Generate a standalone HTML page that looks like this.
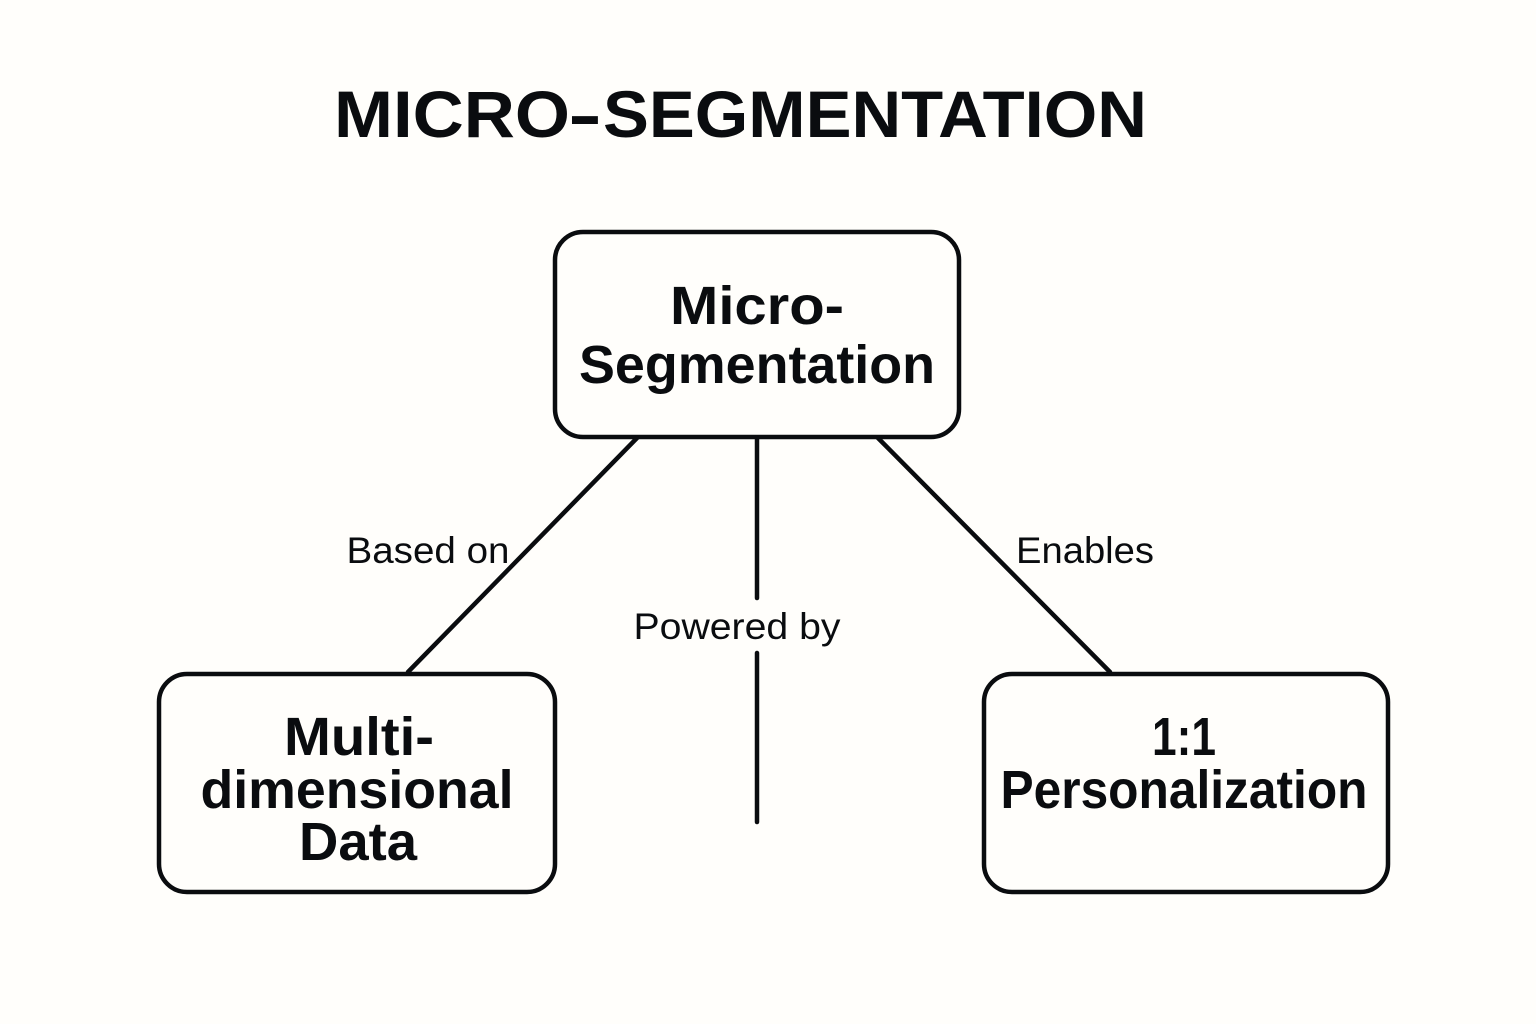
<!DOCTYPE html>
<html>
<head>
<meta charset="utf-8">
<style>
html,body{margin:0;padding:0;background:#fffefb;}
svg{display:block;}
text{font-family:"Liberation Sans",sans-serif;fill:#0a0c0f;}
</style>
</head>
<body>
<svg width="1536" height="1024" viewBox="0 0 1536 1024" xmlns="http://www.w3.org/2000/svg">
<rect width="1536" height="1024" fill="#fffefb"/>
<g font-size="66" font-weight="700">
<text x="334" y="137" textLength="236" lengthAdjust="spacingAndGlyphs">MICRO</text>
<text x="568" y="137" textLength="34" lengthAdjust="spacingAndGlyphs">-</text>
<text x="603" y="137" textLength="544" lengthAdjust="spacingAndGlyphs">SEGMENTATION</text>
</g>
<g fill="none" stroke="#0a0c0f" stroke-width="4.5" stroke-linecap="round">
<rect x="555" y="232" width="404" height="205" rx="28"/>
<rect x="159" y="674" width="396" height="218" rx="28"/>
<rect x="984" y="674" width="404" height="218" rx="28"/>
<line x1="637" y1="438" x2="408" y2="672"/>
<line x1="878" y1="438" x2="1110" y2="672"/>
<line x1="757" y1="438" x2="757" y2="598"/>
<line x1="757" y1="653" x2="757" y2="822"/>
</g>
<g font-weight="700" text-anchor="middle" font-size="54">
<text x="757" y="324" textLength="174" lengthAdjust="spacingAndGlyphs">Micro-</text>
<text x="757" y="383" textLength="356" lengthAdjust="spacingAndGlyphs">Segmentation</text>
<text x="359" y="755" textLength="150" lengthAdjust="spacingAndGlyphs">Multi-</text>
<text x="357" y="808" textLength="313" lengthAdjust="spacingAndGlyphs">dimensional</text>
<text x="358" y="860" textLength="118" lengthAdjust="spacingAndGlyphs">Data</text>
<text x="1184" y="755" textLength="64" lengthAdjust="spacingAndGlyphs">1:1</text>
<text x="1184" y="808" textLength="367" lengthAdjust="spacingAndGlyphs">Personalization</text>
</g>
<g font-size="37" text-anchor="middle">
<text x="428" y="563" textLength="163" lengthAdjust="spacingAndGlyphs">Based on</text>
<text x="737" y="639" textLength="207" lengthAdjust="spacingAndGlyphs">Powered by</text>
<text x="1085" y="563" textLength="138" lengthAdjust="spacingAndGlyphs">Enables</text>
</g>
</svg>
</body>
</html>
